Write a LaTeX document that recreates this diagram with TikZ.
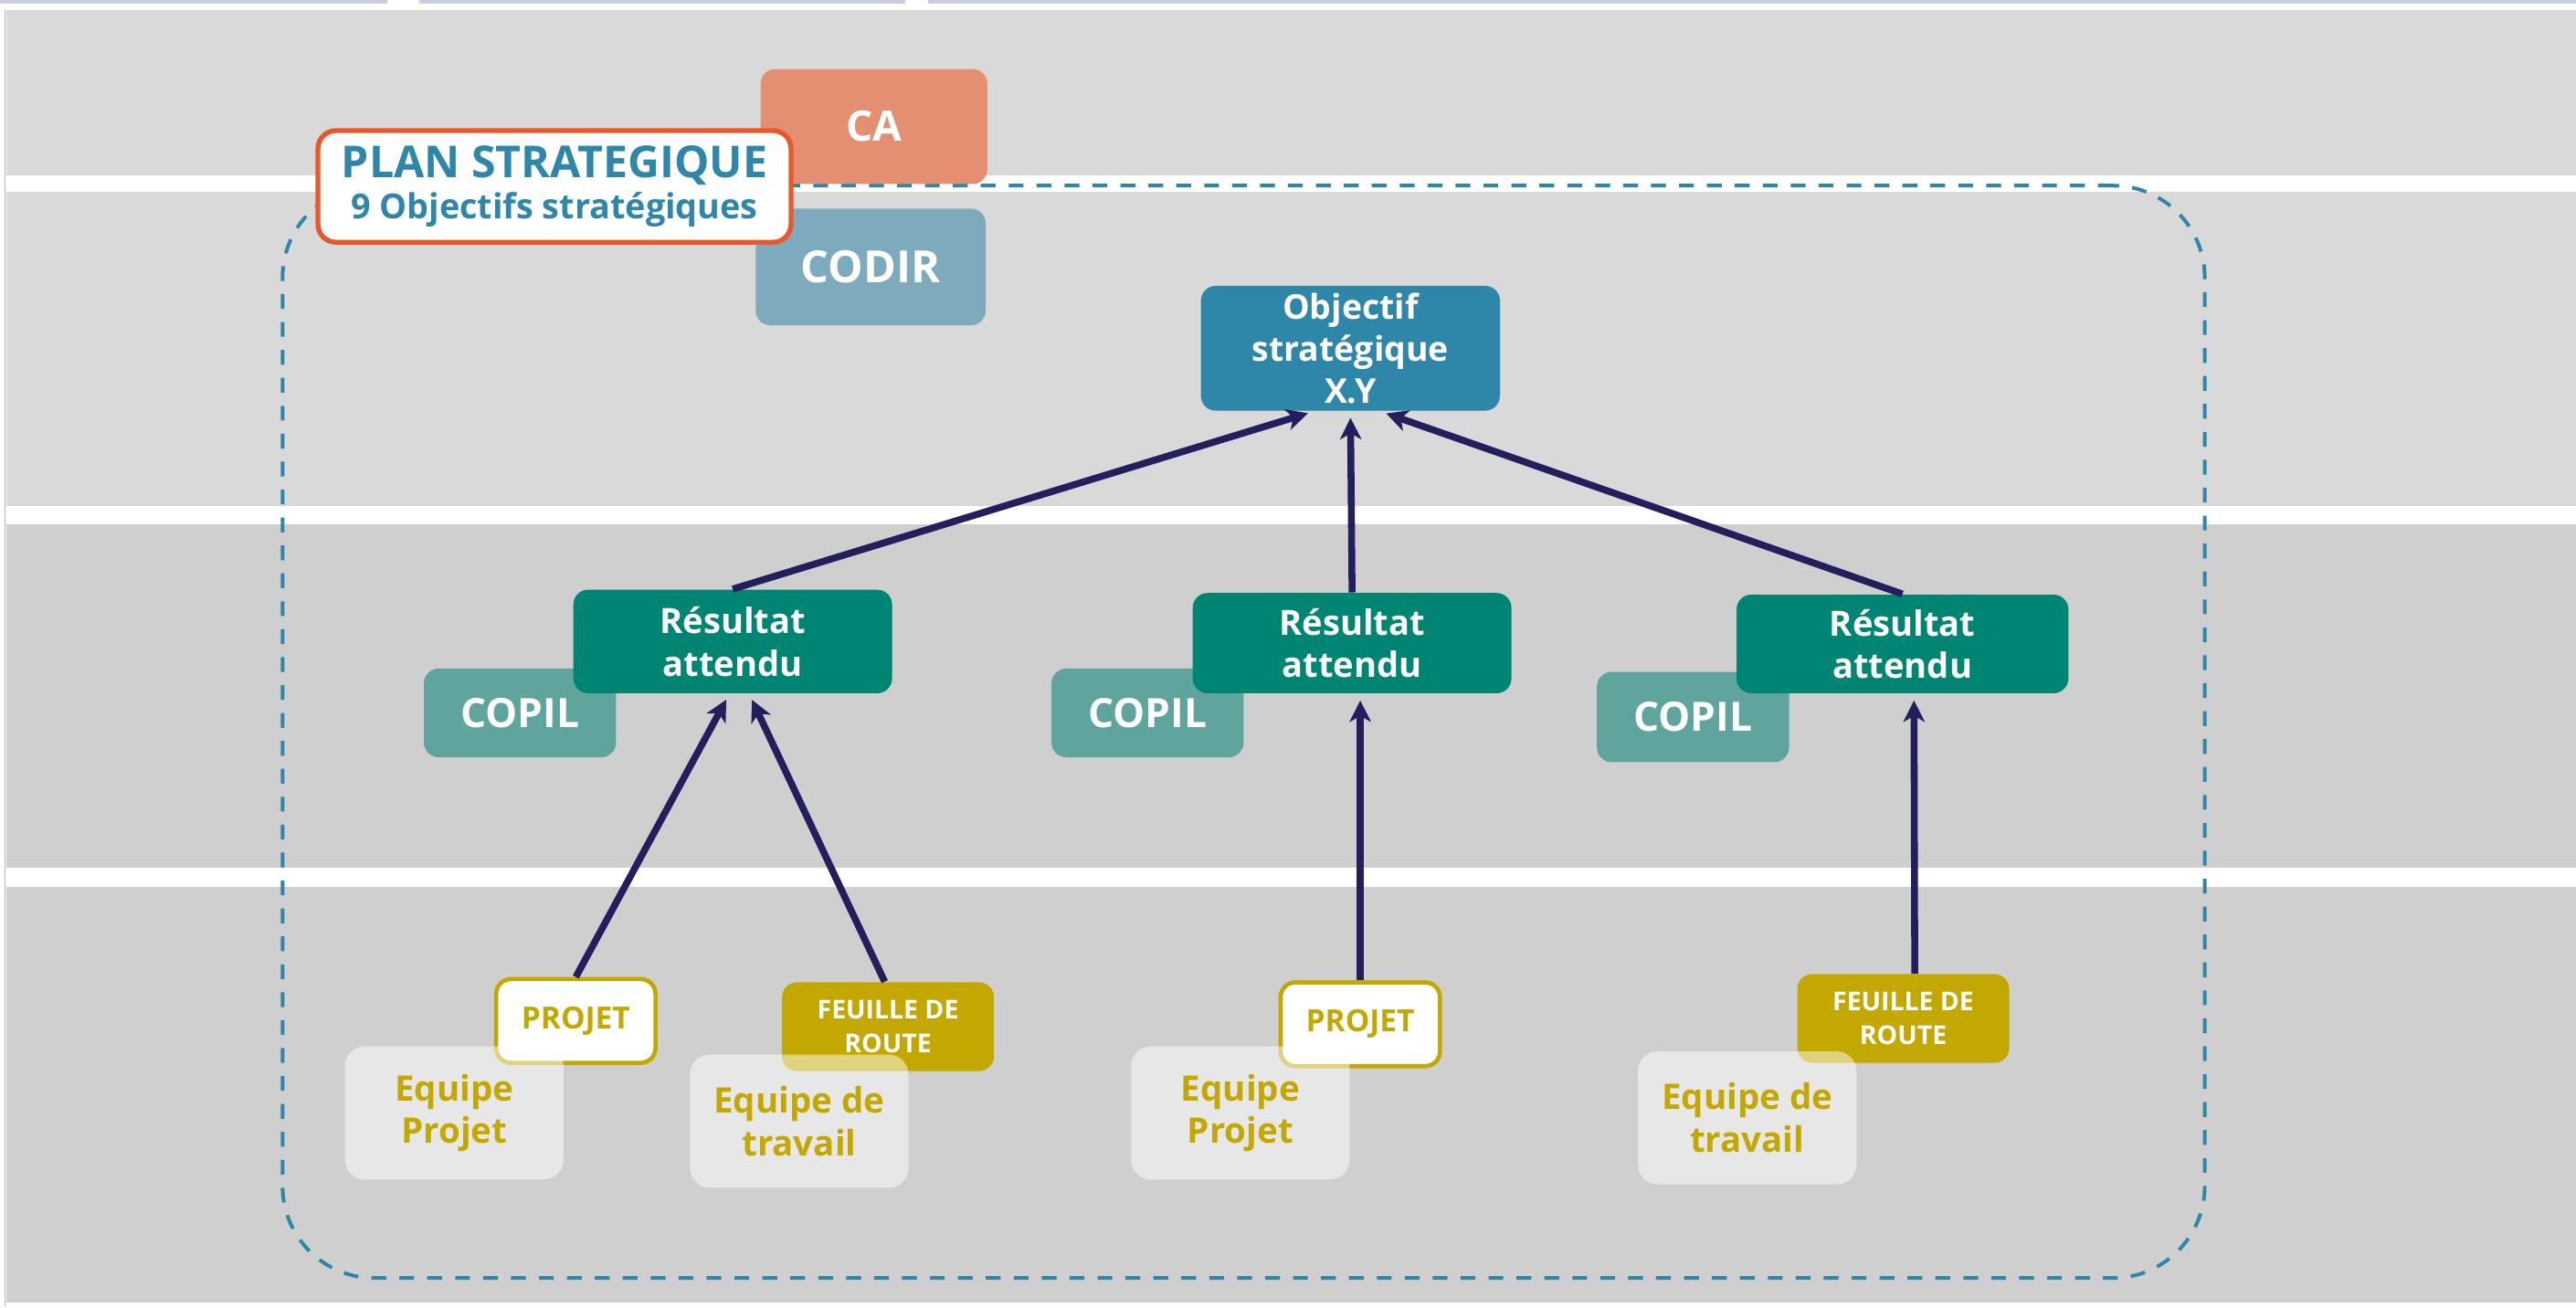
\documentclass[tikz,border=0pt]{standalone}
\usepackage{fontspec}
\setmainfont{Open Sans}
\usetikzlibrary{arrows.meta}
\definecolor{bandA}{HTML}{D9D9D9}
\definecolor{bandB}{HTML}{D0CFD0}
\definecolor{topln}{HTML}{C9CDE0}
\definecolor{caC}{HTML}{E48F71}
\definecolor{codirC}{HTML}{7EAABD}
\definecolor{planC}{HTML}{E8582A}
\definecolor{blueC}{HTML}{2E86A8}
\definecolor{resC}{HTML}{008572}
\definecolor{copilC}{HTML}{5FA59D}
\definecolor{goldC}{HTML}{C2A800}
\definecolor{arrC}{HTML}{231F5C}
\tikzset{
  box/.style={rounded corners=4.5pt, inner sep=0pt, align=center, text=white},
  cabox/.style={box, fill=caC, minimum width=69pt, minimum height=35pt, font=\bfseries\fontsize{12.8}{14}\selectfont},
  codirbox/.style={box, fill=codirC, minimum width=70pt, minimum height=35.5pt, font=\bfseries\fontsize{13.5}{15}\selectfont},
  planbox/.style={box, fill=white, draw=planC, line width=1.5pt, rounded corners=5.5pt, minimum width=144pt, minimum height=34pt, text=blueC},
  objbox/.style={box, fill=blueC, minimum width=91pt, minimum height=38pt, font=\bfseries\fontsize{10.4}{12.8}\selectfont},
  resbox/.style={box, fill=resC, minimum height=30.5pt, font=\bfseries\fontsize{10.6}{13}\selectfont},
  copilbox/.style={box, fill=copilC, minimum width=58.5pt, minimum height=27pt, font=\bfseries\fontsize{12.3}{14}\selectfont},
  projbox/.style={box, fill=white, draw=goldC, line width=1.3pt, minimum width=48.5pt, minimum height=25.5pt, text=goldC, font=\bfseries\fontsize{9.3}{10}\selectfont},
  feubox/.style={box, fill=goldC, minimum width=64.5pt, minimum height=27pt, font=\bfseries\fontsize{7.9}{10.5}\selectfont},
  eqbox/.style={box, fill=white, fill opacity=0.5, text opacity=1, rounded corners=6pt, minimum width=66.5pt, minimum height=40.5pt, text=goldC, font=\bfseries\fontsize{10.7}{13}\selectfont},
  frame/.style={draw=blueC, line width=1.1pt, dash pattern=on 4.5pt off 4pt, rounded corners=28pt, inner sep=0pt, minimum width=585pt, minimum height=332.5pt},
  arr/.style={draw=arrC, line width=2.1pt, shorten >=2pt, -{Stealth[length=6.5pt,width=6.5pt,inset=1.8pt]}}
}
\begin{document}
\begin{tikzpicture}[x=0.5pt,y=-0.5pt]
\useasboundingbox (0,0) rectangle (1568,795.7);
\fill[white] (0,0) rectangle (1568,795.7);
% top thin lines
\fill[topln] (0,0) rectangle (236,2.5);
\fill[topln] (255,0) rectangle (551,2.5);
\fill[topln] (565,0) rectangle (1568,2.5);
% bands
\fill[bandA] (4,6) rectangle (1568,107);
\fill[bandA] (4,117) rectangle (1568,308);
\fill[bandB] (4,319) rectangle (1568,528);
\fill[bandB] (4,540) rectangle (1568,793);
\draw[gray!60, line width=0.4pt] (3,6) -- (3,795);
% frame
\node[frame] (frm) at (757,445.5) {};
% top boxes
\node[cabox] (ca) at (532,77) {CA};
\node[codirbox] (codir) at (530,162.5) {CODIR};
\node[planbox] (plan) at (337.5,113.5) {{\bfseries\fontsize{13.4}{14}\selectfont PLAN STRATEGIQUE}\\[0.5pt]{\bfseries\fontsize{10.5}{12}\selectfont 9 Objectifs stratégiques}};
\node[objbox] (obj) at (822,212) {Objectif\\stratégique\\X.Y};
% COPIL
\node[copilbox] (cop1) at (316.5,434) {COPIL};
\node[copilbox] (cop2) at (698.5,434) {COPIL};
\node[copilbox, minimum height=27.5pt] (cop3) at (1030.5,436.5) {COPIL};
% results
\node[resbox, minimum width=97pt, minimum height=31.5pt] (res1) at (446,390.5) {Résultat\\attendu};
\node[resbox, minimum width=97pt] (res2) at (823,391.5) {Résultat\\attendu};
\node[resbox, minimum width=101pt, minimum height=30pt] (res3) at (1158,392) {Résultat\\attendu};
% upper arrows
\draw[arr] (res1.north) -- ([xshift=-11pt]obj.south);
\draw[arr] (res2.north) -- (obj.south);
\draw[arr] (res3.north) -- ([xshift=9pt]obj.south);
% bottom boxes
\node[projbox] (pj1) at (350.5,621.5) {PROJET};
\node[feubox] (fr1) at (540.5,625) {FEUILLE DE\\ROUTE};
\node[projbox] (pj2) at (828,623.5) {PROJET};
\node[feubox] (fr2) at (1158.5,620) {FEUILLE DE\\ROUTE};
% lower arrows
\draw[arr] (pj1.north) -- ([xshift=-1pt]res1.south);
\draw[arr] ([xshift=-1pt]fr1.north) -- ([xshift=5pt]res1.south);
\draw[arr] (pj2.north) -- (res2.south -| pj2.north);
\draw[arr] ([xshift=3.5pt]fr2.north) -- ([xshift=3.5pt]res3.south);
% teams
\node[eqbox] (eq1) at (276.5,677.5) {Equipe\\Projet};
\node[eqbox] (eq2) at (486.5,682.5) {Equipe de\\travail};
\node[eqbox] (eq3) at (755,677.5) {Equipe\\Projet};
\node[eqbox] (eq4) at (1063.5,680.5) {Equipe de\\travail};
\end{tikzpicture}
\end{document}
